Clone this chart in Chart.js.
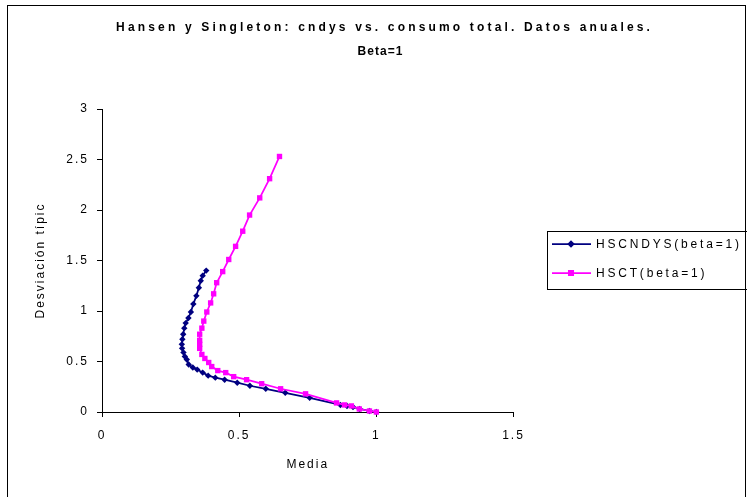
<!DOCTYPE html>
<html>
<head>
<meta charset="utf-8">
<script src="https://cdn.jsdelivr.net/npm/chart.js@4/dist/chart.umd.min.js"></script>
<style>
  html, body { margin: 0; padding: 0; background: #fff; }
  #wrap { width: 747px; height: 497px; }
</style>
</head>
<body>
<div id="wrap"><canvas id="chart"></canvas></div>
<script>
// Chart text
const TITLE_LINES = ['Hansen y Singleton: cndys vs. consumo total. Datos anuales.', 'Beta=1'];
const X_TITLE = 'Media';
const Y_TITLE = 'Desviación típic';

// Series: HSCNDYS(beta=1)
const NAVY_LABEL = 'HSCNDYS(beta=1)';
const navyMedia = [0.38, 0.367, 0.36, 0.353, 0.344, 0.333, 0.324, 0.315, 0.305, 0.30, 0.296, 0.293,
    0.291, 0.292, 0.297, 0.302, 0.309, 0.316, 0.331, 0.347, 0.367, 0.387, 0.413, 0.447, 0.493,
    0.539, 0.597, 0.668, 0.757, 0.869, 0.893, 0.915, 0.939, 0.975, 1.0];
const navyDesv = [1.40, 1.35, 1.30, 1.23, 1.15, 1.07, 0.99, 0.93, 0.88, 0.83, 0.77, 0.72,
    0.67, 0.63, 0.59, 0.55, 0.52, 0.47, 0.44, 0.42, 0.39, 0.36, 0.34, 0.32, 0.29,
    0.26, 0.23, 0.19, 0.14, 0.07, 0.06, 0.05, 0.03, 0.01, 0.0];

// Series: HSCT(beta=1)
const PINK_LABEL = 'HSCT(beta=1)';
const pinkMedia = [0.647, 0.611, 0.575, 0.538, 0.513, 0.487, 0.462, 0.44, 0.418, 0.407, 0.396, 0.382,
    0.371, 0.364, 0.356, 0.356, 0.356, 0.356, 0.364, 0.375, 0.389, 0.40, 0.422, 0.451, 0.48,
    0.527, 0.582, 0.651, 0.742, 0.855, 0.884, 0.909, 0.938, 0.975, 1.0];
const pinkDesv = [2.53, 2.31, 2.12, 1.95, 1.79, 1.64, 1.51, 1.39, 1.28, 1.17, 1.08, 0.99,
    0.90, 0.83, 0.77, 0.71, 0.67, 0.63, 0.57, 0.53, 0.49, 0.45, 0.41, 0.39, 0.35,
    0.32, 0.28, 0.23, 0.18, 0.09, 0.07, 0.06, 0.03, 0.01, 0.0];

// Axis ranges
const X_MIN = 0, X_MAX = 1.5, X_STEP = 0.5;
const Y_MIN = 0, Y_MAX = 3, Y_STEP = 0.5;

const NAVY = '#000080';
const PINK = '#FF00FF';
const FONT = '"Liberation Sans", Arial, sans-serif';

function toPoints(xs, ys) {
    return xs.map((x, i) => ({ x: x, y: ys[i] }));
}

// plain tick text: 0, 0.5, 1 ... (no trailing .0)
function plainTick(value) {
    return String(Math.round(value * 100) / 100);
}

// spread text out to a target width (the original uses very loose spacing)
function spacedText(ctx, text, x, y, targetWidth) {
    ctx.letterSpacing = '0px';
    const w = ctx.measureText(text).width;
    const sp = Math.max(0, (targetWidth - w) / text.length);
    ctx.letterSpacing = sp + 'px';
    ctx.fillText(text, x + sp / 2, y);
    ctx.letterSpacing = '0px';
}

// frame, title and legend box
const decorPlugin = {
    id: 'decor',
    beforeDraw(chart) {
        const ctx = chart.ctx;
        ctx.save();
        ctx.strokeStyle = '#000';
        ctx.lineWidth = 1;
        ctx.strokeRect(7.5, 5.5, 738, 500);
        ctx.restore();
        // loose spacing for ticks and axis titles
        ctx.letterSpacing = '2px';
    },
    afterDraw(chart) {
        const ctx = chart.ctx;
        ctx.save();
        ctx.fillStyle = '#000';
        ctx.textAlign = 'center';
        ctx.textBaseline = 'middle';
        ctx.font = 'bold 12px ' + FONT;
        spacedText(ctx, TITLE_LINES[0], 383, 28, 537);
        spacedText(ctx, TITLE_LINES[1], 380, 52, 46);

        // legend
        ctx.strokeStyle = '#000';
        ctx.lineWidth = 1;
        ctx.strokeRect(547.5, 231.5, 200, 58);
        const items = [
            { label: NAVY_LABEL, ds: chart.data.datasets[0], y: 244 },
            { label: PINK_LABEL, ds: chart.data.datasets[1], y: 273 }
        ];
        ctx.font = '12px ' + FONT;
        ctx.textAlign = 'left';
        items.forEach(it => {
            ctx.strokeStyle = it.ds.borderColor;
            ctx.lineWidth = it.ds.borderWidth;
            ctx.beginPath();
            ctx.moveTo(552, it.y);
            ctx.lineTo(591, it.y);
            ctx.stroke();
            Chart.helpers.drawPoint(ctx, {
                pointStyle: it.ds.pointStyle,
                radius: it.ds.pointRadius * 0.8,
                borderWidth: 1
            }, 571, it.y);
            ctx.fillStyle = it.ds.borderColor;
            ctx.fill();
            ctx.fillStyle = '#000';
            ctx.letterSpacing = '2.8px';
            ctx.fillText(it.label, 596, it.y + 1);
            ctx.letterSpacing = '0px';
        });
        ctx.restore();
    }
};

const ctx = document.getElementById('chart').getContext('2d');
const chart = new Chart(ctx, {
    type: 'scatter',
    data: {
        datasets: [{
            label: NAVY_LABEL,
            data: toPoints(navyMedia, navyDesv),
            showLine: true,
            borderColor: NAVY,
            backgroundColor: NAVY,
            borderWidth: 1.75,
            pointStyle: 'rectRot',
            pointRadius: 3.2,
            pointBorderWidth: 0,
            tension: 0,
            clip: false,
            order: 1
        }, {
            label: PINK_LABEL,
            data: toPoints(pinkMedia, pinkDesv),
            showLine: true,
            borderColor: PINK,
            backgroundColor: PINK,
            borderWidth: 1.75,
            pointStyle: 'rect',
            pointRadius: 3.8,
            pointBorderWidth: 0,
            tension: 0,
            clip: false,
            order: 0
        }]
    },
    options: {
        responsive: true,
        maintainAspectRatio: false,
        animation: false,
        layout: {
            padding: { left: 0, top: 109, right: 233.5, bottom: 0 }
        },
        plugins: {
            legend: { display: false },
            title: { display: false },
            tooltip: { enabled: false }
        },
        scales: {
            x: {
                type: 'linear',
                min: X_MIN,
                max: X_MAX,
                afterFit(scale) { scale.height = 85; },
                ticks: {
                    stepSize: X_STEP,
                    color: '#000',
                    font: { family: FONT, size: 12 },
                    padding: 11,
                    maxRotation: 0,
                    callback: plainTick
                },
                grid: {
                    drawOnChartArea: false,
                    drawTicks: true,
                    tickLength: 5,
                    color: '#000'
                },
                border: { display: true, color: '#000', width: 1 },
                title: {
                    display: true,
                    text: X_TITLE,
                    color: '#000',
                    font: { family: FONT, size: 12 },
                    padding: { top: 0, bottom: 25 }
                }
            },
            y: {
                type: 'linear',
                min: Y_MIN,
                max: Y_MAX,
                afterFit(scale) { scale.width = 102; },
                ticks: {
                    stepSize: Y_STEP,
                    color: '#000',
                    font: { family: FONT, size: 12 },
                    padding: 8,
                    callback: plainTick
                },
                grid: {
                    drawOnChartArea: false,
                    drawTicks: true,
                    tickLength: 5,
                    color: '#000'
                },
                border: { display: true, color: '#000', width: 1 },
                title: {
                    display: true,
                    text: Y_TITLE,
                    color: '#000',
                    font: { family: FONT, size: 12 },
                    padding: { top: 33, bottom: 0 }
                }
            }
        }
    },
    plugins: [decorPlugin]
});
</script>
</body>
</html>
